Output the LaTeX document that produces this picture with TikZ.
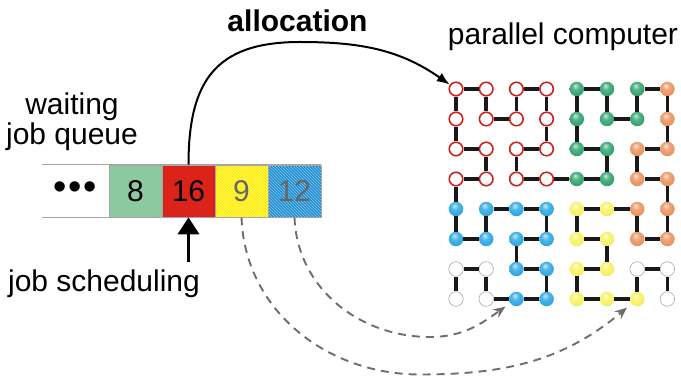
\documentclass[tikz,border=0pt]{standalone}
\usepackage{fontspec}
\setmainfont{Liberation Sans}
\usepackage{tikz}
\usetikzlibrary{arrows.meta,patterns}
\definecolor{jobgreen}{RGB}{140,200,160}
\definecolor{jobred}{RGB}{220,35,25}
\definecolor{jobyellow}{RGB}{255,238,0}
\definecolor{jobblue}{RGB}{25,140,210}
\definecolor{cpured}{RGB}{205,35,30}
\definecolor{cpugreen}{RGB}{55,165,115}
\definecolor{cpuorange}{RGB}{235,150,100}
\definecolor{cpublue}{RGB}{50,170,228}
\definecolor{cpuyellow}{RGB}{248,242,100}
\definecolor{dashgray}{RGB}{110,110,110}
\makeatletter
\pgfdeclareradialshading[tikz@ball]{cpuball}{\pgfqpoint{-6bp}{12bp}}{%
  color(0bp)=(tikz@ball!25!white); color(12bp)=(tikz@ball!85!white);
  color(24bp)=(tikz@ball); color(34bp)=(tikz@ball!88!black);
  color(50bp)=(tikz@ball!70!black)}
\makeatother
\tikzstyle{lbl}=[font=\fontsize{30}{30}\selectfont,inner sep=0pt,anchor=base]
\tikzstyle{job}=[draw=gray!70,line width=0.6pt,minimum width=53pt,minimum height=52pt,inner sep=0pt,font=\fontsize{30}{30}\selectfont]
\tikzstyle{qline}=[draw=gray!70,line width=1pt]
\tikzstyle{cpu}=[circle,minimum size=14.5pt,inner sep=0pt]
\tikzstyle{rcpu}=[cpu,fill=white,draw=cpured,line width=1.6pt,minimum size=13.5pt]
\tikzstyle{gcpu}=[cpu,ball color=cpugreen,shading=cpuball]
\tikzstyle{ocpu}=[cpu,ball color=cpuorange,shading=cpuball]
\tikzstyle{bcpu}=[cpu,ball color=cpublue,shading=cpuball]
\tikzstyle{ycpu}=[cpu,ball color=cpuyellow,shading=cpuball]
\tikzstyle{wcpu}=[cpu,fill=white,draw=gray!60,line width=0.7pt]
\tikzstyle{link}=[draw,line width=3.5pt,black!90]
\tikzstyle{allocarrow}=[draw,line width=2pt,-{Latex[length=13pt,width=10pt]}]
\tikzstyle{schedarrow}=[draw,line width=3.5pt,-{Triangle[length=17pt,width=21pt]}]
\tikzstyle{movearrow}=[draw=dashgray,line width=1.9pt,dash pattern=on 8pt off 6pt,
  -{Stealth[length=12pt,width=10pt]},shorten >=6pt]
\tikzset{hatch/.style={preaction={fill=#1},pattern=north west lines,pattern color=white!55!#1}}

\begin{document}
\begin{tikzpicture}[x=1pt,y=1pt]
        \useasboundingbox (0,0) rectangle (681,377);
        % labels
        \node[lbl] (wait1) at (72,262) {waiting};
        \node[lbl] (wait2) at (72,232) {job queue};
        \node[lbl] (sched) at (104,85) {job scheduling};
        \node[lbl,font=\fontsize{30}{30}\selectfont\bfseries] (alloc) at (297.5,345) {allocation};
        \node[lbl] (parcomp) at (563,332) {parallel computer};
        % queue
        \node[job,draw=none,minimum width=67pt,font=\fontsize{38}{38}\selectfont] (qdots) at (75.5,186)
          {•\hspace{1.7pt}•\hspace{1.7pt}•};
        \node[job,fill=jobgreen] (q8) at (135.5,186) {8};
        \node[job,fill=jobred] (q16) at (188.5,186) {16};
        \node[job,hatch=jobyellow,text=black!60] (q9) at (241.5,186) {9};
        \node[job,hatch=jobblue,text=black!60] (q12) at (294.5,186) {12};
        \draw[qline] (qdots.north west) -- (q12.north east);
        \draw[qline] (qdots.south west) -- (q12.south east);
        % processors
        \foreach \rowlist [count=\cy from 0] in {
            {rcpu,rcpu,rcpu,rcpu,gcpu,gcpu,gcpu,ocpu},
            {rcpu,rcpu,rcpu,rcpu,gcpu,gcpu,gcpu,ocpu},
            {rcpu,rcpu,rcpu,rcpu,gcpu,gcpu,ocpu,ocpu},
            {rcpu,rcpu,rcpu,rcpu,gcpu,gcpu,ocpu,ocpu},
            {bcpu,bcpu,bcpu,bcpu,ycpu,ycpu,ocpu,ocpu},
            {bcpu,bcpu,bcpu,bcpu,ycpu,ycpu,ocpu,ocpu},
            {wcpu,wcpu,bcpu,bcpu,ycpu,ycpu,wcpu,wcpu},
            {wcpu,wcpu,bcpu,bcpu,ycpu,ycpu,ycpu,wcpu}}
          \foreach \s [count=\cx from 0] in \rowlist
            \node[\s] (n-\cx-\cy) at (456+30.2*\cx,288-30*\cy) {};
        \foreach \cx/\cy [remember=\cx as \lx (initially 0),remember=\cy as \ly (initially 7)] in
            {0/6,1/6,1/7,2/7,3/7,3/6,2/6,2/5,3/5,3/4,2/4,1/4,1/5,0/5,0/4,
             0/3,1/3,1/2,0/2,0/1,0/0,1/0,1/1,2/1,2/0,3/0,3/1,3/2,2/2,2/3,3/3,
             4/3,5/3,5/2,4/2,4/1,4/0,5/0,5/1,6/1,6/0,7/0,7/1,7/2,6/2,6/3,7/3,
             7/4,7/5,6/5,6/4,5/4,4/4,4/5,5/5,5/6,4/6,4/7,5/7,6/7,6/6,7/6,7/7}
          \draw[link] (n-\lx-\ly) -- (n-\cx-\cy);
        % arrows
        \coordinate (schedfoot) at (188.5,115);
        \draw[schedarrow] (schedfoot) -- (q16.south);
        \coordinate (alloctop) at (300,335);
        \draw[allocarrow] (q16.north) to[out=90,in=180,looseness=1.3] (alloctop)
          to[out=0,in=145] (n-0-0);
        \coordinate (lowA) at (430,40);
        \coordinate (lowB) at (420,2.5);
        \draw[movearrow] (q12.south) to[out=-88,in=180] (lowA) to[out=0,in=215] (n-2-7);
        \draw[movearrow] (q9.south) to[out=-88,in=180] (lowB) to[out=0,in=220] (n-6-7);
      \end{tikzpicture}
\end{document}
